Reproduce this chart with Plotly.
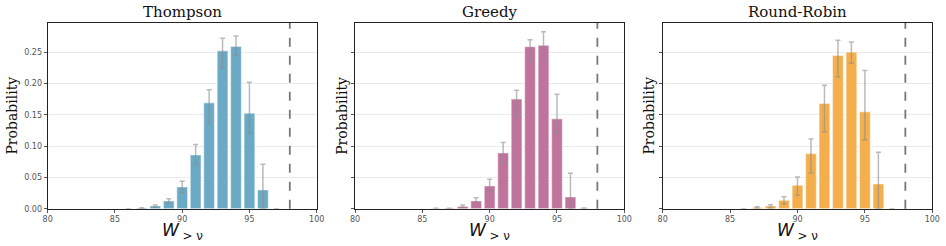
import plotly.graph_objects as go

# ---- data ----
bins = [86, 87, 88, 89, 90, 91, 92, 93, 94, 95, 96, 97]
methods = ["Thompson", "Greedy", "Round-Robin"]

thompson_p = [0.0, 0.001, 0.0043, 0.0123, 0.0346, 0.0858, 0.169, 0.252, 0.259, 0.1525, 0.0299, 0.0]
thompson_lo = [0.0, 0.0005, 0.0025, 0.0085, 0.0256, 0.0704, 0.136, 0.224, 0.245, 0.120, 0.0, 0.0]
thompson_hi = [0.0, 0.0015, 0.0060, 0.0160, 0.0437, 0.1023, 0.190, 0.272, 0.2756, 0.202, 0.071, 0.0]

greedy_p = [0.0003, 0.0006, 0.0037, 0.0123, 0.0362, 0.089, 0.175, 0.2585, 0.2607, 0.1434, 0.0187, 0.0005]
greedy_lo = [0.0, 0.0003, 0.0021, 0.0101, 0.0272, 0.072, 0.148, 0.2345, 0.237, 0.1215, 0.0, 0.0]
greedy_hi = [0.0006, 0.0009, 0.0059, 0.0176, 0.0470, 0.1056, 0.189, 0.2697, 0.2825, 0.1828, 0.0565, 0.001]

rr_p = [0.0, 0.002, 0.0043, 0.0133, 0.0373, 0.088, 0.168, 0.2447, 0.250, 0.1546, 0.0394, 0.0]
rr_lo = [0.0, 0.001, 0.0010, 0.0075, 0.0213, 0.057, 0.123, 0.2105, 0.232, 0.110, 0.0, 0.0]
rr_hi = [0.0, 0.003, 0.0064, 0.0192, 0.0506, 0.1114, 0.197, 0.269, 0.266, 0.2207, 0.090, 0.0]

threshold = 98
x_ticks = [80, 85, 90, 95, 100]
y_ticks = [0.0, 0.05, 0.10, 0.15, 0.20, 0.25]

colors = ["#6aaac5", "#c0739c", "#f4ae4b"]
series = [(thompson_p, thompson_lo, thompson_hi),
          (greedy_p, greedy_lo, greedy_hi),
          (rr_p, rr_lo, rr_hi)]

W, H = 946, 246
x_domains_px = [(47.7, 316.7), (355.0, 624.3), (662.7, 932.3)]
ytitle_offset_px = [36, 13, 14]
y_dom = [(H - 208.7) / H, (H - 23.0) / H]

fig = go.Figure()
layout = dict(
    width=W, height=H,
    margin=dict(l=0, r=0, t=0, b=0, autoexpand=False),
    paper_bgcolor="white", plot_bgcolor="white",
    showlegend=False,
    annotations=[], shapes=[],
)

for i, (name, (p, lo, hi)) in enumerate(zip(methods, series)):
    sfx = "" if i == 0 else str(i + 1)
    err_plus = [h - v for v, h in zip(p, hi)]
    err_minus = [v - l for v, l in zip(p, lo)]
    fig.add_trace(go.Bar(
        x=bins, y=p, xaxis="x" + sfx, yaxis="y" + sfx,
        width=0.8,
        marker=dict(color=colors[i], line=dict(color="rgba(255,255,255,0.45)", width=1.2)),
        error_y=dict(type="data", symmetric=False, array=err_plus, arrayminus=err_minus,
                     color="rgba(140,140,140,0.6)", thickness=1.5, width=2.5),
    ))
    d0, d1 = x_domains_px[i]
    layout["xaxis" + sfx] = dict(
        domain=[d0 / W, d1 / W], anchor="y" + sfx,
        range=[80, 100], tickvals=x_ticks,
        showgrid=False, zeroline=False,
        showline=True, linecolor="#222", linewidth=1.2, mirror=True,
        ticks="outside", ticklen=3, tickcolor="#555", tickwidth=1,
        tickfont=dict(family="DejaVu Sans", size=8, color="#555"),
    )
    yax = dict(
        domain=y_dom, anchor="x" + sfx,
        range=[0, 0.2964], tickvals=y_ticks,
        showticklabels=(i == 0),
        showgrid=True, gridcolor="#ebebeb", gridwidth=1, zeroline=False,
        showline=True, linecolor="#222", linewidth=1.2, mirror=True,
        ticks="outside", ticklen=3, tickcolor="#555", tickwidth=1,
        tickfont=dict(family="DejaVu Sans", size=8, color="#555"),
    )
    if i == 0:
        yax["ticktext"] = ["%.2f" % t for t in y_ticks]
    layout["yaxis" + sfx] = yax
    # panel title
    layout["annotations"].append(dict(
        text=name, xref="paper", yref="paper",
        x=(d0 + d1) / 2 / W, y=(H - 12.5) / H, xanchor="center", yanchor="middle",
        showarrow=False, font=dict(family="DejaVu Serif", size=15, color="#111")))
    # y axis title
    layout["annotations"].append(dict(
        text="Probability", xref="paper", yref="paper",
        x=(d0 - ytitle_offset_px[i]) / W, y=(y_dom[0] + y_dom[1]) / 2,
        xanchor="center", yanchor="middle",
        textangle=-90, showarrow=False,
        font=dict(family="DejaVu Serif", size=14, color="#111")))
    # x axis title
    layout["annotations"].append(dict(
        text="<i>W</i><sub> &gt; ν</sub>", xref="paper", yref="paper",
        x=(d0 + d1) / 2 / W, y=(H - 231) / H, xanchor="center", yanchor="middle",
        showarrow=False, font=dict(family="DejaVu Sans", size=17, color="#111")))
    # dashed threshold line
    layout["shapes"].append(dict(
        type="line", xref="x" + sfx, yref="y" + sfx + " domain",
        x0=threshold, x1=threshold, y0=0, y1=1,
        line=dict(color="#777", width=1.8, dash="dash")))

fig.update_layout(**layout)
fig.write_html("out.html",
               config={"displayModeBar": False},
               post_script="document.body.style.margin='0';document.body.style.overflow='hidden';")
